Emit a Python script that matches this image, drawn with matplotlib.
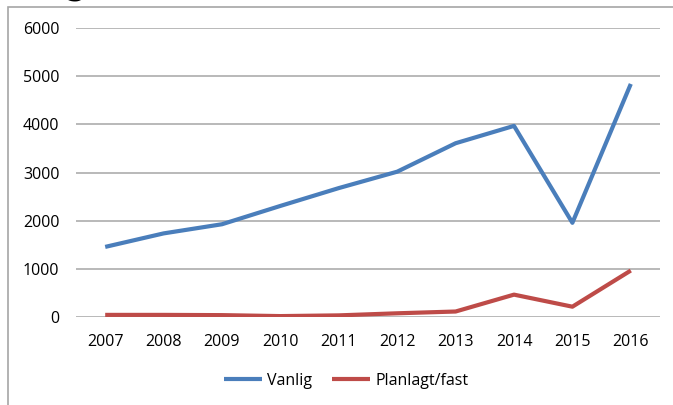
import matplotlib.pyplot as plt
from matplotlib.patches import Rectangle

# Data
years = ['2007', '2008', '2009', '2010', '2011', '2012', '2013', '2014', '2015', '2016']
vanlig = [1460, 1740, 1930, 2310, 2680, 3020, 3610, 3970, 1960, 4840]
planlagt = [50, 50, 45, 25, 40, 83, 120, 470, 220, 970]
yticks = [0, 1000, 2000, 3000, 4000, 5000, 6000]

plt.rcParams['font.family'] = ['Open Sans', 'DejaVu Sans']

W, H = 673, 405
fig = plt.figure(figsize=(W / 100, H / 100), dpi=100)

# outer chart frame (cropped on the right and bottom)
fig.patches.append(Rectangle((8 / W, -0.05), 1.2, (H - 7) / H + 0.05,
                             transform=fig.transFigure, fill=False,
                             edgecolor='#a6a6a6', linewidth=1.2))

# heading above the chart, mostly cropped off in the source
fig.text(30 / W, 1 + 6 / H, 'Figur', fontsize=27, family='DejaVu Serif',
         style='italic', va='baseline', color='black')

ax = fig.add_axes([76 / W, 1 - 317.3 / H, (660 - 76) / W, (317.3 - 28) / H])
x = list(range(len(years)))
ax.plot(x, vanlig, color='#4a7ebb', linewidth=3, label='Vanlig', solid_capstyle='butt')
ax.plot(x, planlagt, color='#be4b48', linewidth=3, label='Planlagt/fast', solid_capstyle='butt')

ax.set_xlim(-0.5, len(years) - 0.5)
ax.set_ylim(0, 6000)
ax.set_yticks(yticks)
ax.set_yticklabels([str(v) for v in yticks])
ax.set_xticks(x)
ax.set_xticklabels(years)
ax.yaxis.grid(True, color='#a6a6a6', linewidth=1.1)
ax.set_axisbelow(True)
for s in ['top', 'right', 'left', 'bottom']:
    ax.spines[s].set_visible(False)
ax.tick_params(axis='both', length=0, labelsize=11.5, colors='black')
ax.tick_params(axis='y', pad=12)
ax.tick_params(axis='x', pad=12)

ax.legend(loc='center', bbox_to_anchor=(346 / W, 1 - 381 / H),
          bbox_transform=fig.transFigure, ncol=2, frameon=False,
          fontsize=11.5, handlelength=2.4, handletextpad=0.3, columnspacing=1.25)

fig.savefig('out.png', dpi=100)
